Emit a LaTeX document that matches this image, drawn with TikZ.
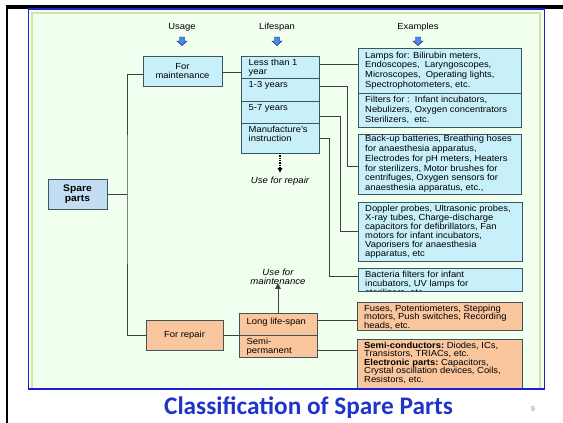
\documentclass[tikz,border=0pt]{standalone}
\usepackage{fontspec}
\setmainfont{Liberation Sans}[FakeStretch=1.07]
\newfontfamily\titlefont{Carlito}
\usetikzlibrary{calc,arrows.meta}

\definecolor{bg}{RGB}{240,255,238}
\definecolor{frameyg}{RGB}{214,230,160}
\definecolor{frameblue}{RGB}{30,30,215}
\definecolor{boxline}{RGB}{60,85,95}
\definecolor{cyanfill}{RGB}{200,240,250}
\definecolor{spfill}{RGB}{195,222,242}
\definecolor{orfill}{RGB}{249,198,158}
\definecolor{titleblue}{RGB}{32,52,200}
\definecolor{arrowblue}{RGB}{70,140,225}

\begin{document}
\begin{tikzpicture}[x=1pt,y=-1pt,
  font=\fontsize{8.8}{9.5}\selectfont,
  box/.style={draw=boxline, line width=0.8pt, anchor=north west, inner sep=0pt, outer sep=0pt},
  cbox/.style={box, fill=cyanfill},
  obox/.style={box, fill=orfill},
  extext/.style={align=left, inner sep=0pt, anchor=west, font=\fontsize{8.8}{#1}\selectfont},
  lbl/.style={anchor=north west, inner sep=0pt, align=left, font=\fontsize{8.8}{9.2}\selectfont},
  conn/.style={draw=black!75, line width=0.7pt},
  hdr/.style={font=\fontsize{8.8}{10}\selectfont},
  note/.style={font=\fontsize{9}{9.5}\selectfont\itshape, align=center, inner sep=0pt},
  barrow/.style={fill=arrowblue, draw=blue!55!black, line width=0.4pt}
]
\useasboundingbox (0,0) rectangle (563,423);
\fill[white] (0,0) rectangle (563,423);

% slide frame
\fill[black] (6,5) rectangle (563,9);
\fill[black] (6,5) rectangle (8,423);
\fill[bg] (28,9) rectangle (545,389);
\draw[frameyg, line width=1.2pt] (32,389) -- (32,13) -- (540,13) -- (540,389);

% headers
\node[hdr] (husage) at (182,27) {Usage};
\node[hdr] (hlife) at (277,27) {Lifespan};
\node[hdr] (hex) at (418,27) {Examples};
\foreach \xx in {182,277,418}{
  \draw[barrow] (\xx-2.5,37) -- (\xx+2.5,37) -- (\xx+2.5,41) -- (\xx+5,41) -- (\xx,45.5) -- (\xx-5,41) -- (\xx-2.5,41) -- cycle;
}

% left column
\node[box, fill=spfill, minimum width=59pt, minimum height=30pt, align=center,
      font=\fontsize{9.6}{10.5}\selectfont\bfseries] (sp) at (48,179) {Spare\\parts};
\node[cbox, minimum width=79pt, minimum height=30pt, align=center] (fm) at (143,56) {For\\maintenance};
\node[obox, minimum width=77pt, minimum height=30pt] (fr) at (146,320) {For repair};

% lifespan
\node[cbox, minimum width=78pt, minimum height=22pt] (ls1) at (241,56) {};
\node[cbox, minimum width=78pt, minimum height=23pt] (ls2) at (241,78) {};
\node[cbox, minimum width=78pt, minimum height=22pt] (ls3) at (241,101) {};
\node[cbox, minimum width=78pt, minimum height=30pt] (ls4) at (241,123) {};
\node[lbl] (t1) at ([xshift=7.5pt,yshift=-3pt]ls1.north west) {Less than 1\\year};
\node[lbl] (t2) at ([xshift=7.5pt,yshift=-3pt]ls2.north west) {1-3 years};
\node[lbl] (t3) at ([xshift=7.5pt,yshift=-3pt]ls3.north west) {5-7 years};
\node[lbl] (t4) at ([xshift=7.5pt,yshift=-3pt]ls4.north west) {Manufacture's\\instruction};

\node[obox, minimum width=78pt, minimum height=22pt] (ll1) at (239,313) {};
\node[obox, minimum width=78pt, minimum height=22pt] (ll2) at (239,335) {};
\node[lbl] (t5) at ([xshift=7.5pt,yshift=-5pt]ll1.north west) {Long life-span};
\node[lbl] (t6) at ([xshift=7.5pt,yshift=-2.5pt]ll2.north west) {Semi-\\permanent};

% examples
\node[cbox, minimum width=163pt, minimum height=45pt] (ex1) at (358,48) {};
\node[extext=9.8] (x1) at ([xshift=7pt]ex1.west)
  {Lamps for: Bilirubin meters,\\Endoscopes,\ \ Laryngoscopes,\\Microscopes,\ \ Operating lights,\\Spectrophotometers, etc.};
\node[cbox, minimum width=163pt, minimum height=34pt] (ex2) at (358,93) {};
\node[extext=9.7] (x2) at ([xshift=7pt]ex2.west)
  {Filters for :\ \ Infant incubators,\\Nebulizers, Oxygen concentrators\\Sterilizers,\ \ etc.};
\node[cbox, minimum width=163pt, minimum height=60pt] (ex3) at (358,134) {};
\node[extext=9.8] (x3) at ([xshift=7pt]ex3.west)
  {Back-up batteries, Breathing hoses\\for anaesthesia apparatus,\\Electrodes for pH meters, Heaters\\for sterilizers, Motor brushes for\\centrifuges, Oxygen sensors for\\anaesthesia apparatus, etc.,};
\node[cbox, minimum width=164pt, minimum height=59pt] (ex4) at (358,202) {};
\node[extext=9.1] (x4) at ([xshift=7pt]ex4.west)
  {Doppler probes, Ultrasonic probes,\\X-ray tubes, Charge-discharge\\capacitors for defibrillators, Fan\\motors for infant incubators,\\Vaporisers for anaesthesia\\apparatus, etc};
\node[cbox, minimum width=164pt, minimum height=23pt] (ex5) at (358,268) {};
\begin{scope}
\clip (ex5.north west) rectangle (ex5.south east);
\node[lbl, font=\fontsize{8.8}{9}\selectfont] (x5) at ([xshift=7pt,yshift=-3pt]ex5.north west)
  {Bacteria filters for infant\\incubators, UV lamps for\\sterilizers, etc.};
\end{scope}
\draw[boxline, line width=0.8pt] (ex5.north west) rectangle (ex5.south east);
\node[obox, minimum width=165pt, minimum height=28pt] (ex6) at (357,302) {};
\node[extext=8.8] (x6) at ([xshift=7pt,yshift=-1.2pt]ex6.west)
  {Fuses, Potentiometers, Stepping\\motors, Push switches, Recording\\heads, etc.};
\begin{scope}
\clip (0,0) rectangle (563,389);
\node[obox, minimum width=165pt, minimum height=52pt] (ex7) at (357,339) {};
\node[lbl, font=\fontsize{8.8}{8.4}\selectfont] (x7) at ([xshift=7pt,yshift=-3pt]ex7.north west)
  {\textbf{Semi-conductors:}\ Diodes, ICs,\\Transistors, TRIACs, etc.\\\textbf{Electronic parts:}\ Capacitors,\\Crystal oscillation devices, Coils,\\Resistors, etc.};
\end{scope}

% notes
\node[note] (ufr) at (280,181) {Use for repair};
\node[note] (ufm) at (278,277) {Use for\\maintenance};

% connectors
\coordinate (trunk) at (127,194);
\draw[conn] (sp.east) -- (sp.east -| trunk);
\draw[conn] ([yshift=-3pt]fm.west) -| (trunk) |- (fr.west);
\draw[conn] ([yshift=-1pt]fm.east) -- ([yshift=-1pt]fm.east -| ls1.west);
\draw[conn] (fr.east) -- (fr.east -| ll1.west);
\draw[conn] ([yshift=3pt]ls1.east) -- ([yshift=3pt]ls1.east -| ex1.west);
\draw[conn] ([yshift=3.5pt]ls2.east) -| ([xshift=-11pt,yshift=-2pt]ex3.west) -- ([yshift=-2pt]ex3.west);
\draw[conn] ([yshift=-4.5pt]ls3.east) -| ([xshift=-18pt]ex4.west) -- (ex4.west);
\draw[conn] (ls4.east) -| ([xshift=-29pt,yshift=3.5pt]ex5.west) -- ([yshift=3.5pt]ex5.west);
\draw[conn] ([yshift=4pt]ll1.east) -- ([yshift=4pt]ll1.east -| ex6.west);
\draw[conn] ([yshift=-4pt]ll2.east) -- ([yshift=-4pt]ll2.east -| ex7.west);
\draw[conn, -{Triangle[length=5.5pt,width=5.5pt]}] (ll1.north) -- ([yshift=2pt]ufm.south);
\draw[black, line width=1.3pt, densely dotted, -{Triangle[length=4.5pt,width=4.5pt]}] (ls4.south) -- ([yshift=4pt]ufr.north);

% blue frame on top
\draw[frameblue, line width=1.5pt] (28.5,9) rectangle (544.5,389);

% title
\node[font=\titlefont\bfseries\fontsize{25.3}{28}\selectfont, text=titleblue] (title) at (308.5,408) {Classification of Spare Parts};
\node[font=\fontsize{7}{8}\selectfont, text=black!45] (pnum) at (533,409) {9};
\end{tikzpicture}
\end{document}
